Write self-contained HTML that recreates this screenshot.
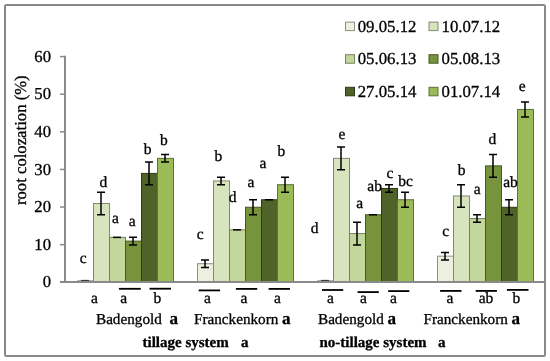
<!DOCTYPE html>
<html><head><meta charset="utf-8"><title>root colozation chart</title>
<style>
html,body{margin:0;padding:0;background:#fff;}
body{width:550px;height:361px;overflow:hidden;}
svg{display:block;will-change:transform;}
text{font-family:"Liberation Serif",serif;fill:#000;stroke:#000;stroke-width:0.3px;text-rendering:geometricPrecision;}
</style></head><body>
<svg width="550" height="361" viewBox="0 0 550 361">
<rect x="0" y="0" width="550" height="361" fill="#fff"/>
<rect x="5" y="5" width="540" height="351" rx="1.5" ry="1.5" fill="#fff" stroke="#888" stroke-width="2"/>
<rect x="77.50" y="280.80" width="16" height="1.20" fill="#EBF1DE" stroke="#8d9085" stroke-width="1"/>
<rect x="93.50" y="203.50" width="16" height="78.50" fill="#D7E4BD" stroke="#818871" stroke-width="1"/>
<rect x="109.50" y="237.36" width="16" height="44.64" fill="#C3D69B" stroke="#75805d" stroke-width="1"/>
<rect x="125.50" y="241.12" width="16" height="40.88" fill="#77933C" stroke="#475824" stroke-width="1"/>
<rect x="141.50" y="173.40" width="16" height="108.60" fill="#4F6228" stroke="#2f3a18" stroke-width="1"/>
<rect x="157.50" y="158.35" width="16" height="123.65" fill="#9BBB59" stroke="#5d7035" stroke-width="1"/>
<rect x="197.50" y="263.69" width="16" height="18.31" fill="#EBF1DE" stroke="#8d9085" stroke-width="1"/>
<rect x="213.50" y="180.93" width="16" height="101.07" fill="#D7E4BD" stroke="#818871" stroke-width="1"/>
<rect x="229.50" y="229.83" width="16" height="52.17" fill="#C3D69B" stroke="#75805d" stroke-width="1"/>
<rect x="245.50" y="207.26" width="16" height="74.74" fill="#77933C" stroke="#475824" stroke-width="1"/>
<rect x="261.50" y="199.74" width="16" height="82.26" fill="#4F6228" stroke="#2f3a18" stroke-width="1"/>
<rect x="277.50" y="184.69" width="16" height="97.31" fill="#9BBB59" stroke="#5d7035" stroke-width="1"/>
<rect x="317.50" y="280.80" width="16" height="1.20" fill="#EBF1DE" stroke="#8d9085" stroke-width="1"/>
<rect x="333.50" y="158.35" width="16" height="123.65" fill="#D7E4BD" stroke="#818871" stroke-width="1"/>
<rect x="349.50" y="233.59" width="16" height="48.41" fill="#C3D69B" stroke="#75805d" stroke-width="1"/>
<rect x="365.50" y="214.78" width="16" height="67.22" fill="#77933C" stroke="#475824" stroke-width="1"/>
<rect x="381.50" y="188.45" width="16" height="93.55" fill="#4F6228" stroke="#2f3a18" stroke-width="1"/>
<rect x="397.50" y="199.74" width="16" height="82.26" fill="#9BBB59" stroke="#5d7035" stroke-width="1"/>
<rect x="437.50" y="256.17" width="16" height="25.83" fill="#EBF1DE" stroke="#8d9085" stroke-width="1"/>
<rect x="453.50" y="195.97" width="16" height="86.03" fill="#D7E4BD" stroke="#818871" stroke-width="1"/>
<rect x="469.50" y="218.55" width="16" height="63.45" fill="#C3D69B" stroke="#75805d" stroke-width="1"/>
<rect x="485.50" y="165.88" width="16" height="116.12" fill="#77933C" stroke="#475824" stroke-width="1"/>
<rect x="501.50" y="207.26" width="16" height="74.74" fill="#4F6228" stroke="#2f3a18" stroke-width="1"/>
<rect x="517.50" y="109.45" width="16" height="172.55" fill="#9BBB59" stroke="#5d7035" stroke-width="1"/>
<path d="M81.0 280.60H89.0" stroke="#000" stroke-width="1.5" stroke-opacity="0.65" fill="none"/>
<path d="M97.0 192.21H105.0M101.0 192.21V214.78M97.0 214.78H105.0" stroke="#000" stroke-width="1.5" fill="none"/>
<path d="M113.0 237.36H121.0" stroke="#000" stroke-width="1.5" fill="none"/>
<path d="M129.0 237.36H137.0M133.0 237.36V244.88M129.0 244.88H137.0" stroke="#000" stroke-width="1.5" fill="none"/>
<path d="M145.0 162.12H153.0M149.0 162.12V184.69M145.0 184.69H153.0" stroke="#000" stroke-width="1.5" fill="none"/>
<path d="M161.0 154.59H169.0M165.0 154.59V162.12M161.0 162.12H169.0" stroke="#000" stroke-width="1.5" fill="none"/>
<path d="M201.0 259.93H209.0M205.0 259.93V267.45M201.0 267.45H209.0" stroke="#000" stroke-width="1.5" fill="none"/>
<path d="M217.0 177.16H225.0M221.0 177.16V184.69M217.0 184.69H225.0" stroke="#000" stroke-width="1.5" fill="none"/>
<path d="M233.0 229.83H241.0" stroke="#000" stroke-width="1.5" fill="none"/>
<path d="M249.0 199.74H257.0M253.0 199.74V214.78M249.0 214.78H257.0" stroke="#000" stroke-width="1.5" fill="none"/>
<path d="M265.0 199.74H273.0" stroke="#000" stroke-width="1.5" fill="none"/>
<path d="M281.0 177.16H289.0M285.0 177.16V192.21M281.0 192.21H289.0" stroke="#000" stroke-width="1.5" fill="none"/>
<path d="M321.0 280.60H329.0" stroke="#000" stroke-width="1.5" stroke-opacity="0.65" fill="none"/>
<path d="M337.0 147.07H345.0M341.0 147.07V169.64M337.0 169.64H345.0" stroke="#000" stroke-width="1.5" fill="none"/>
<path d="M353.0 222.31H361.0M357.0 222.31V244.88M353.0 244.88H361.0" stroke="#000" stroke-width="1.5" fill="none"/>
<path d="M369.0 214.78H377.0" stroke="#000" stroke-width="1.5" fill="none"/>
<path d="M385.0 184.69H393.0M389.0 184.69V192.21M385.0 192.21H393.0" stroke="#000" stroke-width="1.5" fill="none"/>
<path d="M401.0 192.21H409.0M405.0 192.21V207.26M401.0 207.26H409.0" stroke="#000" stroke-width="1.5" fill="none"/>
<path d="M441.0 252.40H449.0M445.0 252.40V259.93M441.0 259.93H449.0" stroke="#000" stroke-width="1.5" fill="none"/>
<path d="M457.0 184.69H465.0M461.0 184.69V207.26M457.0 207.26H465.0" stroke="#000" stroke-width="1.5" fill="none"/>
<path d="M473.0 214.78H481.0M477.0 214.78V222.31M473.0 222.31H481.0" stroke="#000" stroke-width="1.5" fill="none"/>
<path d="M489.0 154.59H497.0M493.0 154.59V177.16M489.0 177.16H497.0" stroke="#000" stroke-width="1.5" fill="none"/>
<path d="M505.0 199.74H513.0M509.0 199.74V214.78M505.0 214.78H513.0" stroke="#000" stroke-width="1.5" fill="none"/>
<path d="M521.0 101.92H529.0M525.0 101.92V116.97M521.0 116.97H529.0" stroke="#000" stroke-width="1.5" fill="none"/>
<g stroke="#8a8a8a" fill="none">
<path d="M60 244.68H65" stroke-width="1.5"/>
<path d="M60 207.06H65" stroke-width="1.5"/>
<path d="M60 169.44H65" stroke-width="1.5"/>
<path d="M60 131.82H65" stroke-width="1.5"/>
<path d="M60 94.20H65" stroke-width="1.5"/>
<path d="M60 56.58H65" stroke-width="1.5"/>
<path d="M65 55.78V282.00M60 282.00H545" stroke-width="2"/>
</g>
<text x="51" y="287.40" font-size="16.7" text-anchor="end">0</text>
<text x="51" y="249.78" font-size="16.7" text-anchor="end">10</text>
<text x="51" y="212.16" font-size="16.7" text-anchor="end">20</text>
<text x="51" y="174.54" font-size="16.7" text-anchor="end">30</text>
<text x="51" y="136.92" font-size="16.7" text-anchor="end">40</text>
<text x="51" y="99.30" font-size="16.7" text-anchor="end">50</text>
<text x="51" y="61.68" font-size="16.7" text-anchor="end">60</text>
<text transform="translate(25.6 140.2) rotate(-90)" font-size="16.7" text-anchor="middle">root colozation (%)</text>
<text x="83.2" y="263.4" font-size="15.5" text-anchor="middle">c</text>
<text x="103.4" y="186.7" font-size="15.5" text-anchor="middle">d</text>
<text x="115.5" y="223.1" font-size="15.5" text-anchor="middle">a</text>
<text x="132.3" y="226.4" font-size="15.5" text-anchor="middle">a</text>
<text x="147.6" y="154.0" font-size="15.5" text-anchor="middle">b</text>
<text x="163.8" y="145.3" font-size="15.5" text-anchor="middle">b</text>
<text x="200.1" y="238.7" font-size="15.5" text-anchor="middle">c</text>
<text x="218.4" y="160.6" font-size="15.5" text-anchor="middle">b</text>
<text x="232.7" y="202.0" font-size="15.5" text-anchor="middle">d</text>
<text x="250.9" y="187.4" font-size="15.5" text-anchor="middle">a</text>
<text x="262.9" y="168.0" font-size="15.5" text-anchor="middle">a</text>
<text x="281.4" y="156.3" font-size="15.5" text-anchor="middle">b</text>
<text x="314.5" y="233.2" font-size="15.5" text-anchor="middle">d</text>
<text x="342.0" y="138.7" font-size="15.5" text-anchor="middle">e</text>
<text x="359.7" y="207.5" font-size="15.5" text-anchor="middle">a</text>
<text x="374.6" y="190.6" font-size="15.5" text-anchor="middle">ab</text>
<text x="389.9" y="178.4" font-size="15.5" text-anchor="middle">c</text>
<text x="405.5" y="185.5" font-size="15.5" text-anchor="middle">bc</text>
<text x="445.7" y="235.8" font-size="15.5" text-anchor="middle">c</text>
<text x="461.7" y="175.3" font-size="15.5" text-anchor="middle">b</text>
<text x="477.2" y="194.1" font-size="15.5" text-anchor="middle">a</text>
<text x="492.4" y="143.7" font-size="15.5" text-anchor="middle">d</text>
<text x="510.5" y="187.3" font-size="15.5" text-anchor="middle">ab</text>
<text x="522.2" y="90.6" font-size="15.5" text-anchor="middle">e</text>
<text x="94.5" y="302.7" font-size="15.5" text-anchor="middle">a</text>
<text x="123.6" y="302.7" font-size="15.5" text-anchor="middle">a</text>
<text x="157.3" y="302.7" font-size="15.5" text-anchor="middle">b</text>
<text x="207.5" y="302.7" font-size="15.5" text-anchor="middle">a</text>
<text x="244.0" y="302.7" font-size="15.5" text-anchor="middle">a</text>
<text x="277.4" y="302.7" font-size="15.5" text-anchor="middle">a</text>
<text x="330.4" y="302.7" font-size="15.5" text-anchor="middle">a</text>
<text x="363.5" y="302.7" font-size="15.5" text-anchor="middle">a</text>
<text x="393.5" y="302.7" font-size="15.5" text-anchor="middle">a</text>
<text x="450.0" y="302.7" font-size="15.5" text-anchor="middle">a</text>
<text x="486.0" y="302.7" font-size="15.5" text-anchor="middle">ab</text>
<text x="516.4" y="302.7" font-size="15.5" text-anchor="middle">b</text>
<rect x="118.9" y="287.9" width="21.9" height="1.8" fill="#000"/>
<rect x="149.5" y="287.8" width="21.5" height="1.8" fill="#000"/>
<rect x="198.7" y="289.5" width="21.4" height="1.8" fill="#000"/>
<rect x="235.9" y="288.0" width="21.3" height="1.8" fill="#000"/>
<rect x="268.6" y="288.0" width="21.4" height="1.8" fill="#000"/>
<rect x="322.0" y="289.1" width="21.2" height="1.8" fill="#000"/>
<rect x="357.6" y="291.2" width="21.2" height="1.8" fill="#000"/>
<rect x="388.2" y="290.2" width="21.1" height="1.8" fill="#000"/>
<rect x="440.1" y="290.0" width="21.4" height="1.8" fill="#000"/>
<rect x="475.7" y="290.0" width="21.2" height="1.8" fill="#000"/>
<rect x="506.9" y="289.0" width="21.6" height="1.8" fill="#000"/>
<text x="96" y="324" font-size="15.2">Badengold</text>
<text x="194" y="324" font-size="15.2">Franckenkorn</text>
<text x="318" y="324" font-size="15.2">Badengold</text>
<text x="423.5" y="324" font-size="15.2">Franckenkorn</text>
<text x="169.4" y="324" font-size="17" font-weight="bold">a</text>
<text x="281.9" y="324" font-size="17" font-weight="bold">a</text>
<text x="387.5" y="324" font-size="17" font-weight="bold">a</text>
<text x="511.5" y="324" font-size="17" font-weight="bold">a</text>
<text x="142.5" y="347" font-size="15" font-weight="bold">tillage system</text>
<text x="241" y="347" font-size="15" font-weight="bold">a</text>
<text x="319.5" y="347" font-size="15" font-weight="bold">no-tillage system</text>
<text x="438" y="347" font-size="15" font-weight="bold">a</text>
<rect x="345.5" y="22.1" width="9" height="8.5" fill="#EBF1DE" stroke="#8d9085" stroke-width="1"/>
<text x="357.7" y="31.6" font-size="16.8">09.05.12</text>
<rect x="429.0" y="22.1" width="9" height="8.5" fill="#D7E4BD" stroke="#818871" stroke-width="1"/>
<text x="441.5" y="31.6" font-size="16.8">10.07.12</text>
<rect x="345.5" y="54.7" width="9" height="8.5" fill="#C3D69B" stroke="#75805d" stroke-width="1"/>
<text x="357.7" y="64.1" font-size="16.8">05.06.13</text>
<rect x="429.0" y="54.7" width="9" height="8.5" fill="#77933C" stroke="#475824" stroke-width="1"/>
<text x="441.5" y="64.1" font-size="16.8">05.08.13</text>
<rect x="345.5" y="87.3" width="9" height="8.5" fill="#4F6228" stroke="#2f3a18" stroke-width="1"/>
<text x="357.7" y="96.5" font-size="16.8">27.05.14</text>
<rect x="429.0" y="87.3" width="9" height="8.5" fill="#9BBB59" stroke="#5d7035" stroke-width="1"/>
<text x="441.5" y="96.5" font-size="16.8">01.07.14</text>
</svg>
</body></html>
